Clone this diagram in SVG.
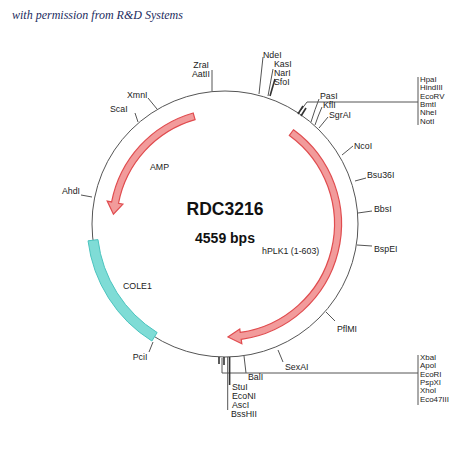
<svg xmlns="http://www.w3.org/2000/svg" width="450" height="450" viewBox="0 0 450 450">
<style>
.lbl{font-family:"Liberation Sans",Arial,sans-serif;font-size:8.8px;fill:#222}
.sm{font-size:7.9px}
.ln{stroke:#555;stroke-width:1;fill:none}
.tk{stroke:#333;stroke-width:1.6;fill:none}
.red{fill:#f29b9b;stroke:#e04c4f;stroke-width:1.2}
.cy{fill:#7fdcd6;stroke:#4cc4bf;stroke-width:1}
</style>
<rect width="450" height="450" fill="#fff"/>
<text x="12" y="19" font-family="'Liberation Serif',serif" font-style="italic" font-size="12" fill="#1c2b5e">with permission from R&amp;D Systems</text>

<g id="backbone"><circle cx="225" cy="224" r="133" class="ln"/></g>

<g id="features">
<path id="hPLK1-arrow" class="red" d="M293.48,129.75 A116.5,116.5 0 0 1 241.21,339.37 L241.84,343.83 L227.96,336.96 L239.76,328.97 L240.24,332.43 A109.5,109.5 0 0 0 289.36,135.41 Z"/>
<path id="AMP-arrow" class="red" d="M193.17,112.97 A115.5,115.5 0 0 0 111.62,201.96 L107.2,201.1 L113.43,214.24 L122.91,204.16 L118.5,203.3 A108.5,108.5 0 0 1 195.1,119.7 Z"/>
<path id="COLE1-box" class="cy" d="M88.03,240.82 A138,138 0 0 0 151.87,341.02 L157.17,332.54 A128,128 0 0 1 97.96,239.6 Z"/>
</g>

<g id="connectors">
<line class="ln" x1="148" y1="98" x2="157" y2="109"/>
<line class="ln" x1="135" y1="113" x2="138" y2="122"/>
<line class="ln" x1="81" y1="195" x2="92" y2="197"/>
<line class="ln" x1="212" y1="70" x2="212" y2="91"/>
<line class="ln" x1="263" y1="57" x2="259" y2="94"/>
<line class="ln" x1="273" y1="69" x2="268" y2="96"/>
<line class="tk" x1="275" y1="79" x2="270" y2="96"/>
<polyline class="ln" points="418,77 418,125"/>
<polyline class="ln" points="418,102 307,102 301,110"/>
<line class="tk" x1="298" y1="114" x2="303" y2="106"/>
<line class="tk" x1="301" y1="116" x2="306" y2="108"/>
<path class="ln" d="M319,99 Q315,109 311,122"/>
<path class="ln" d="M322,107 Q318,116 315,125"/>
<line class="ln" x1="328" y1="117" x2="319" y2="128"/>
<line class="ln" x1="342" y1="155" x2="353" y2="146"/>
<line class="ln" x1="355" y1="181" x2="366" y2="178"/>
<line class="ln" x1="358" y1="213" x2="372" y2="211"/>
<line class="ln" x1="357" y1="245" x2="372" y2="246"/>
<line class="ln" x1="326" y1="312" x2="335" y2="321"/>
<line class="ln" x1="278" y1="350" x2="283" y2="362"/>
<line class="ln" x1="244" y1="356" x2="246" y2="373"/>
<polyline class="ln" points="418,355 418,405"/>
<polyline class="ln" points="418,373 222,373 222,358"/>
<line class="tk" x1="219" y1="357" x2="219" y2="364"/>
<line class="tk" x1="224" y1="357" x2="224" y2="365"/>
<line class="ln" x1="227.7" y1="357" x2="227.7" y2="410"/>
<line class="tk" x1="229.6" y1="357" x2="229.6" y2="385"/>
<line class="ln" x1="153" y1="342" x2="149" y2="352"/>
</g>

<g id="labels">
<text class="lbl" x="127" y="98">XmnI</text>
<text class="lbl" x="110" y="112">ScaI</text>
<text class="lbl" x="80" y="194" text-anchor="end">AhdI</text>
<text class="lbl" x="209" y="68" text-anchor="end">ZraI</text>
<text class="lbl" x="210" y="77" text-anchor="end">AatII</text>
<text class="lbl" x="263" y="58">NdeI</text>
<text class="lbl" x="274" y="67">KasI</text>
<text class="lbl" x="274" y="76">NarI</text>
<text class="lbl" x="274" y="85">SfoI</text>
<text class="lbl" x="320" y="99">PasI</text>
<text class="lbl" x="323" y="108">KflI</text>
<text class="lbl" x="329" y="118">SgrAI</text>
<text class="lbl sm" x="420" y="82">HpaI</text>
<text class="lbl sm" x="420" y="90.3">HindIII</text>
<text class="lbl sm" x="420" y="98.6">EcoRV</text>
<text class="lbl sm" x="420" y="106.9">BmtI</text>
<text class="lbl sm" x="420" y="115.2">NheI</text>
<text class="lbl sm" x="420" y="123.5">NotI</text>
<text class="lbl" x="354" y="149">NcoI</text>
<text class="lbl" x="367" y="178">Bsu36I</text>
<text class="lbl" x="374" y="212">BbsI</text>
<text class="lbl" x="374" y="252">BspEI</text>
<text class="lbl" x="337" y="332">PflMI</text>
<text class="lbl" x="285" y="370">SexAI</text>
<text class="lbl sm" x="420" y="360">XbaI</text>
<text class="lbl sm" x="420" y="368.3">ApoI</text>
<text class="lbl sm" x="420" y="376.6">EcoRI</text>
<text class="lbl sm" x="420" y="384.9">PspXI</text>
<text class="lbl sm" x="420" y="393.2">XhoI</text>
<text class="lbl sm" x="420" y="401.5">Eco47III</text>
<text class="lbl" x="248" y="380">BalI</text>
<text class="lbl" x="232" y="390">StuI</text>
<text class="lbl" x="232" y="399">EcoNI</text>
<text class="lbl" x="232" y="408">AscI</text>
<text class="lbl" x="231" y="417">BssHII</text>
<text class="lbl" x="140" y="360" text-anchor="middle">PciI</text>
<text class="lbl" x="150" y="170">AMP</text>
<text class="lbl" x="123" y="289">COLE1</text>
<text class="lbl" x="262" y="254">hPLK1 (1-603)</text>
<text x="225" y="215" text-anchor="middle" font-family="'Liberation Sans',Arial,sans-serif" font-weight="bold" font-size="17.5" fill="#111">RDC3216</text>
<text x="225" y="243" text-anchor="middle" font-family="'Liberation Sans',Arial,sans-serif" font-weight="bold" font-size="14" fill="#111">4559 bps</text>
</g>
</svg>
